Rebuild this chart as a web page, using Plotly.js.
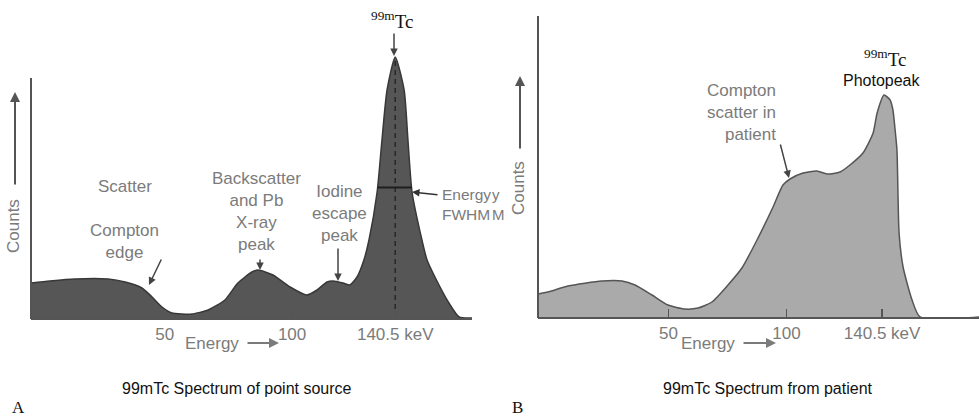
<!DOCTYPE html>
<html>
<head>
<meta charset="utf-8">
<script src="https://cdn.plot.ly/plotly-3.0.1.min.js"></script>
<style>html,body{margin:0;padding:0;background:#fff;}#chart{width:979px;height:417px;}</style>
</head>
<body>
<div id="chart"></div>
<script>
// ---- Data (energy in keV, counts in arbitrary units) ----
const sourceEnergy = [-2.5, 4.9, 14.7, 27.7, 34.4, 41.0, 45.0, 48.9, 52.8, 56.8, 60.7, 67.0, 73.6, 78.7, 84.2, 86.6, 92.5, 99.2, 105.8, 109.8, 113.7, 116.1, 120.0, 122.7, 125.5, 128.2, 130.2, 133.4, 135.3, 137.3, 140.5, 144.0, 145.5, 147.1, 151.0, 153.0, 156.1, 161.6, 165.6, 170.7];
const sourceCounts = [35, 37, 39, 39, 36, 30, 21, 11, 5, 4, 4, 8, 18, 35, 46, 48, 43, 31, 23, 28, 36, 37, 35, 33, 41, 58, 78, 126, 178, 228, 261, 228, 178, 126, 78, 58, 41, 15, 1, 0];

const patientEnergy = [-5.3, -1.1, 7.4, 21.8, 30.3, 35.8, 43.0, 49.8, 57.0, 62.5, 68.4, 75.2, 81.1, 87.5, 94.3, 98.5, 101.5, 107.0, 112.9, 117.2, 122.7, 126.9, 132.4, 136.7, 138.4, 141.3, 143.9, 145.1, 145.9, 146.8, 147.7, 149.4, 153.2, 156.6, 181.6];
const patientCounts = [23, 25, 31, 36, 36, 32, 22, 12, 8, 9, 15, 32, 49, 77, 110, 132, 138, 144, 146, 143, 145, 152, 164, 184, 204, 222, 217, 207, 190, 167, 84, 50, 17, 0, 0];

const tickValues = [50, 100, 140.5];
const tickLabels = ['50', '100', '140.5 keV'];
const photopeakEnergy = 140.5;

// ---- helpers ----
const W = 979, H = 417;
const px = x => x / W;
const py = y => 1 - y / H;

const peakCounts = Math.max(...sourceCounts);
const half = peakCounts / 2;
function crossings(xs, ys, level) {
  const out = [];
  for (let i = 1; i < xs.length; i++) {
    const a = ys[i-1] - level, b = ys[i] - level;
    if (a === 0) out.push(xs[i-1]);
    else if (a * b < 0) out.push(xs[i-1] + (xs[i]-xs[i-1]) * a / (a - b));
  }
  return out;
}
const cr = crossings(sourceEnergy, sourceCounts, half);
const fwhmX = [cr[cr.length-2], cr[cr.length-1]];

const gray = '#7b7b7b';
const sans = 'Liberation Sans, Arial, sans-serif';
const serif = 'Liberation Serif, Times New Roman, serif';

const traces = [
  {x: sourceEnergy, y: sourceCounts, xaxis: 'x', yaxis: 'y', type: 'scatter', mode: 'lines',
   fill: 'tozeroy', fillcolor: '#565656', line: {color: '#383838', width: 1.5, shape: 'spline', smoothing: 0.6}, hoverinfo: 'skip'},
  {x: [photopeakEnergy, photopeakEnergy], y: [0, peakCounts], xaxis: 'x', yaxis: 'y', type: 'scatter', mode: 'lines',
   line: {color: '#2a2a2a', width: 1.6, dash: '5px,4px'}, hoverinfo: 'skip'},
  {x: fwhmX, y: [half, half], xaxis: 'x', yaxis: 'y', type: 'scatter', mode: 'lines',
   line: {color: '#1e1e1e', width: 2}, hoverinfo: 'skip'},
  {x: patientEnergy, y: patientCounts, xaxis: 'x2', yaxis: 'y2', type: 'scatter', mode: 'lines',
   fill: 'tozeroy', fillcolor: '#aaaaaa', line: {color: '#555555', width: 1.5, shape: 'spline', smoothing: 0.6}, hoverinfo: 'skip'}
];

const xaxisBase = {
  tickmode: 'array', tickvals: tickValues, ticktext: tickLabels,
  ticks: 'inside', ticklen: 8, tickwidth: 1.5, tickcolor: '#555',
  showline: true, linecolor: '#555', linewidth: 2,
  showgrid: false, zeroline: false,
  tickfont: {family: sans, size: 17, color: gray},
  ticklabelstandoff: 0, fixedrange: true
};
const yaxisBase = {visible: false, showgrid: false, zeroline: false, fixedrange: true};

function note(text, x, y, opts) {
  return Object.assign({text: text, x: px(x), y: py(y), xref: 'paper', yref: 'paper', showarrow: false,
    font: {family: sans, size: 17, color: gray}, xanchor: 'center', yanchor: 'middle'}, opts || {});
}
function arrow(x0, y0, x1, y1, color, width) {
  return {text: '', x: px(x1), y: py(y1), xref: 'paper', yref: 'paper', ax: x0 - x1, ay: y0 - y1,
    showarrow: true, arrowhead: 2, arrowsize: 1, arrowwidth: width || 1.5, arrowcolor: color || '#444'};
}

const annotations = [
  // Panel A
  note('<sup>99m</sup>Tc', 392, 20, {font: {family: serif, size: 19, color: '#111'}}),
  arrow(394, 32, 394, 56, '#444'),
  note('Scatter', 125, 186),
  note('Compton<br>edge', 125, 242),
  arrow(162, 258, 149, 285, '#444'),
  note('Backscatter<br>and Pb<br>X-ray<br>peak', 256, 212),
  arrow(260, 258, 260, 270, '#444'),
  note('Iodine<br>escape<br>peak', 339, 213),
  arrow(338, 247, 338, 281, '#444'),
  note('Energy<br>FWHM', 440, 204, {xanchor: 'left', align: 'left', font: {family: sans, size: 15.5, color: gray}}),
  arrow(439, 195, 412, 192, '#333'),
  note('Energy', 212, 343),
  arrow(246, 343, 279, 343, gray, 2),
  note('Counts', 14, 226, {textangle: -90}),
  arrow(15, 186, 15, 92, '#555', 2),
  note('99mTc Spectrum of point source', 237, 388, {font: {family: sans, size: 16, color: '#111'}}),
  note('A', 18, 407, {font: {family: serif, size: 17, color: '#111'}}),
  // Panel B
  note('y', 490, 194, {xanchor: 'left', font: {family: sans, size: 15, color: gray}}),
  note('M', 490, 214, {xanchor: 'left', font: {family: sans, size: 15, color: gray}}),
  note('Counts', 518, 188, {textangle: -90}),
  arrow(520, 150, 520, 76, '#555', 2),
  note('Compton<br>scatter in<br>patient', 778, 112, {xanchor: 'right', align: 'right'}),
  arrow(780, 143, 789, 178, '#444'),
  note('<sup>99m</sup>Tc', 885, 58, {font: {family: serif, size: 19, color: '#111'}}),
  note('Photopeak', 882, 80, {font: {family: sans, size: 16, color: '#111'}}),
  note('Energy', 708, 343),
  arrow(742, 343, 776, 343, gray, 2),
  note('99mTc Spectrum from patient', 768, 388, {font: {family: sans, size: 16, color: '#111'}}),
  note('B', 517, 407, {font: {family: serif, size: 17, color: '#111'}})
];

const shapes = [
  {type: 'line', xref: 'paper', yref: 'paper', x0: px(31), x1: px(31), y0: py(319), y1: py(78), line: {color: '#555', width: 2}},
  {type: 'line', xref: 'paper', yref: 'paper', x0: px(538), x1: px(538), y0: py(318), y1: py(16), line: {color: '#555', width: 2}}
];

const layout = {
  width: W, height: H,
  margin: {l: 0, r: 0, t: 0, b: 0},
  paper_bgcolor: '#ffffff', plot_bgcolor: 'rgba(0,0,0,0)',
  showlegend: false,
  xaxis: Object.assign({}, xaxisBase, {domain: [px(31), px(472)], range: [-2.55, 170.66], anchor: 'y'}),
  yaxis: Object.assign({}, yaxisBase, {domain: [py(318), py(40)], range: [0, 278], anchor: 'x'}),
  xaxis2: Object.assign({}, xaxisBase, {domain: [px(538), 1], range: [-5.3, 181.57], anchor: 'y2'}),
  yaxis2: Object.assign({}, yaxisBase, {domain: [py(317), py(10)], range: [0, 307], anchor: 'x2'}),
  annotations: annotations,
  shapes: shapes
};

Plotly.newPlot('chart', traces, layout, {displayModeBar: false, staticPlot: true});
</script>
</body>
</html>
